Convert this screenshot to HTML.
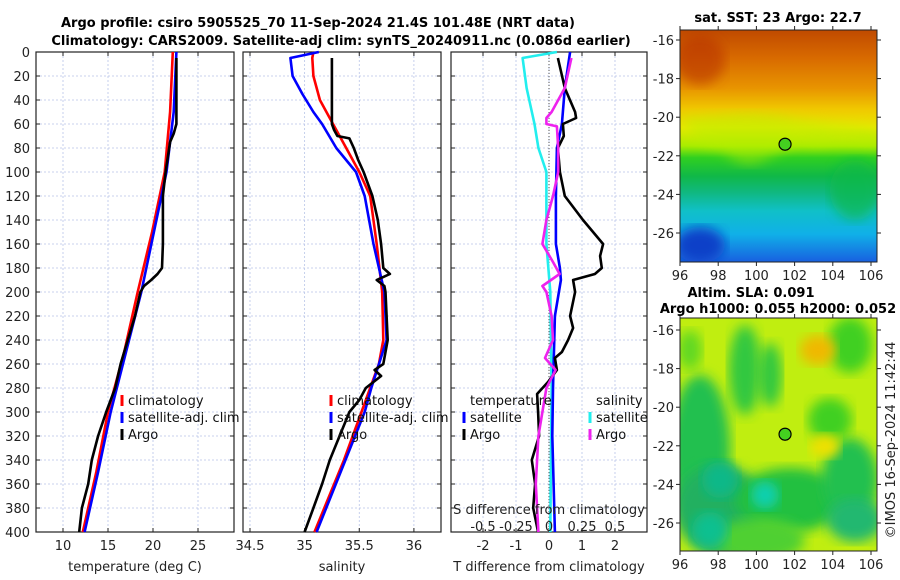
<!DOCTYPE html>
<html><head><meta charset="utf-8"><style>
body{margin:0;background:#fff;}
svg{display:block;font-family:"DejaVu Sans","Liberation Sans",sans-serif;}
</style></head><body>
<svg id="c" width="900" height="580" viewBox="0 0 900 580">
<defs>
<linearGradient id="sst" x1="0" y1="0" x2="0" y2="1">
<stop offset="0" stop-color="#c04a00"/><stop offset="0.12" stop-color="#d86a00"/><stop offset="0.25" stop-color="#e89400"/>
<stop offset="0.34" stop-color="#f0c800"/><stop offset="0.42" stop-color="#e8e800"/><stop offset="0.5" stop-color="#a8ec00"/>
<stop offset="0.55" stop-color="#30d020"/><stop offset="0.63" stop-color="#10b848"/><stop offset="0.7" stop-color="#10b880"/>
<stop offset="0.78" stop-color="#10c0c8"/><stop offset="0.88" stop-color="#10b0e8"/><stop offset="1" stop-color="#1860e0"/>
</linearGradient>
<filter id="bl"><feGaussianBlur stdDeviation="6"/></filter>
<clipPath id="m1"><rect x="680" y="30" width="197" height="232"/></clipPath>
<clipPath id="m2"><rect x="680" y="318" width="197" height="233"/></clipPath>
</defs>
</svg>
<script>
// ---- data ----
const tClimDepth=[0,50,100,150,200,250,300,350,400];
const tClim=[22.2,21.9,21.3,19.9,18.3,16.8,15.0,13.7,12.2];
const tSat=[22.6,22.3,21.5,20.1,18.7,17.0,15.3,13.9,12.4];
const tArgoDepth=[5,60,68,75,100,120,160,180,185,190,195,200,220,240,260,280,300,320,340,360,380,400];
const tArgo=[22.6,22.6,22.3,21.9,21.4,21.1,21.1,21.0,20.5,19.8,19.0,18.6,18.0,17.2,16.4,15.8,14.8,13.9,13.2,12.8,12.1,11.8];
const sClimDepth=[0,5,20,40,60,80,100,120,160,200,240,260,280,300,340,400];
const sClim=[35.08,35.07,35.08,35.14,35.26,35.38,35.50,35.60,35.66,35.71,35.72,35.68,35.60,35.52,35.36,35.09];
const sSatDepth=[0,5,20,35,50,60,80,100,120,160,200,240,280,300,400];
const sSat=[35.13,34.87,34.89,34.98,35.08,35.16,35.29,35.47,35.55,35.63,35.73,35.75,35.61,35.55,35.11];
const sArgoDepth=[5,60,65,70,72,80,90,100,120,140,160,180,185,190,195,200,240,260,265,270,280,290,300,320,340,360,380,400];
const sArgo=[35.25,35.25,35.27,35.30,35.41,35.45,35.49,35.54,35.62,35.67,35.70,35.72,35.78,35.66,35.73,35.74,35.76,35.72,35.64,35.70,35.56,35.50,35.41,35.32,35.23,35.16,35.08,35.00];
const dTSatDepth=[0,30,60,80,120,160,180,190,220,280,320,400];
const dTSat=[0.64,0.48,0.39,0.24,0.21,0.21,0.33,0.36,0.18,0.12,0.10,0.18];
const dSSatDepth=[0,5,30,60,80,100,120,160,200,280,400];
const dSSat=[0.06,-0.20,-0.17,-0.11,-0.08,-0.02,-0.02,-0.02,0.01,0.02,0.01];
const dTArgoDepth=[5,30,50,55,60,70,80,100,120,140,160,170,180,185,190,200,220,230,240,250,255,265,275,285,300,320,340,360,380,400];
const dTArgo=[0.27,0.48,0.79,0.82,0.42,0.45,0.27,0.33,0.48,1.03,1.64,1.55,1.6,1.39,0.73,0.79,0.64,0.73,0.58,0.39,0.18,0.24,-0.03,-0.36,-0.33,-0.30,-0.52,-0.42,-0.48,-0.33];
const dSArgoDepth=[5,30,50,55,60,62,80,100,120,140,160,175,185,195,200,220,240,255,265,280,300,320,340,360,400];
const dSArgo=[0.17,0.12,0.02,-0.02,-0.02,0.06,0.07,0.07,0.03,-0.02,-0.05,0.03,0.08,-0.05,-0.02,0.02,0.03,-0.03,0.05,-0.02,-0.05,-0.08,-0.09,-0.10,-0.08];
const depthTicks=[0,20,40,60,80,100,120,140,160,180,200,220,240,260,280,300,320,340,360,380,400];
const tTicks=[10,15,20,25];
const sTicks=[34.5,35,35.5,36];
const sTickLabels=["34.5","35","35.5","36"];
const dTTicks=[-2,-1,0,1,2];
const dSTicks=[-0.5,-0.25,0,0.25,0.5];
const dSTickLabels=["-0.5","-0.25","0","0.25","0.5"];
const lonTicks=[96,98,100,102,104,106];
const latTicks=[-16,-18,-20,-22,-24,-26];
const argoLon=101.5, argoLat=-21.4;

// ---- scales ----
const Y0=52,Y1=532;
const yD=d=>Y0+(d/400)*(Y1-Y0);
const P1={x0:36,x1:234,v0:7,v1:29};
const P2={x0:243,x1:441,v0:34.436,v1:36.248};
const P3={x0:451,x1:647,v0:-2.97,v1:2.97};
const sx=(p,v)=>p.x0+(v-p.v0)/(p.v1-p.v0)*(p.x1-p.x0);
const sxS=v=>sx(P3,v*4);
const lonX=l=>680+(l-96)*19.1;
const lat1=l=>40+(-16-l)*19.3;
const lat2=l=>330+(-16-l)*19.3;

const svg=document.getElementById('c');
const NS='http://www.w3.org/2000/svg';
function mk(tag,at,parent){const e=document.createElementNS(NS,tag);for(const k in at)e.setAttribute(k,at[k]);(parent||svg).appendChild(e);return e;}
function txt(x,y,s,at,parent){const e=mk('text',Object.assign({x:x,y:y,'font-size':13,fill:'#222'},at||{}),parent);e.textContent=s;return e;}

// titles
let t=txt(318,27,'Argo profile: csiro 5905525_70 11-Sep-2024 21.4S 101.48E (NRT data)',{'text-anchor':'middle','font-weight':'bold','fill':'#000'});


t=txt(341,45,'Climatology: CARS2009. Satellite-adj clim: synTS_20240911.nc (0.086d earlier)',{'text-anchor':'middle','font-weight':'bold','fill':'#000'});



function panel(p,name,xt,xl,xlabel){
  const g=mk('g',{});
  
  
  depthTicks.forEach(d=>{
    const l=mk('line',{x1:p.x0,x2:p.x1,y1:yD(d),y2:yD(d),stroke:'#b8c4e8','stroke-width':0.8,'stroke-dasharray':'2,2'},g);
    
    
    mk('line',{x1:p.x0,x2:p.x0+4,y1:yD(d),y2:yD(d),stroke:'#222'},g);
    mk('line',{x1:p.x1-4,x2:p.x1,y1:yD(d),y2:yD(d),stroke:'#222'},g);
  });
  xt.forEach((v,i)=>{
    const x=p.fx(v);
    const l=mk('line',{x1:x,x2:x,y1:Y0,y2:Y1,stroke:'#b8c4e8','stroke-width':0.8,'stroke-dasharray':'2,2'},g);
    
    
    mk('line',{x1:x,x2:x,y1:Y1,y2:Y1-4,stroke:'#222'},g);
    mk('line',{x1:x,x2:x,y1:Y0,y2:Y0+4,stroke:'#222'},g);
    if(xl){const tt=txt(x,Y1+18,xl[i],{'text-anchor':'middle'},g);
      
      }
  });
  const r=mk('rect',{x:p.x0,y:Y0,width:p.x1-p.x0,height:Y1-Y0,fill:'none',stroke:'#222','stroke-width':1.2},g);
  
  
  const xt2=txt((p.x0+p.x1)/2,571,xlabel,{'text-anchor':'middle'},g);
  
  
  return g;
}
P1.fx=v=>sx(P1,v);P2.fx=v=>sx(P2,v);P3.fx=v=>sx(P3,v);
panel(P1,'temperature-panel',tTicks,tTicks.map(String),'temperature (deg C)');
panel(P2,'salinity-panel',sTicks,sTickLabels,'salinity');
panel(P3,'difference-panel',dTTicks,dTTicks.map(String),'T difference from climatology');
depthTicks.forEach(d=>{
  const e=txt(30,yD(d)+5,String(d),{'text-anchor':'end'});
  
  
});
const zl=mk('line',{x1:sx(P3,0),x2:sx(P3,0),y1:Y0,y2:Y1,stroke:'#555','stroke-width':1,'stroke-dasharray':'1,2'});



function line(depths,vals,fx,color,name){
  const pts=depths.map((d,i)=>fx(vals[i]).toFixed(1)+','+yD(d).toFixed(1)).join(' ');
  const e=mk('polyline',{points:pts,fill:'none',stroke:color,'stroke-width':2.6,'stroke-linejoin':'round'});
  
  
}
line(tClimDepth,tClim,P1.fx,'#ff0000','temp-climatology-line');
line(tClimDepth,tSat,P1.fx,'#0000ff','temp-satellite-line');
line(tArgoDepth,tArgo,P1.fx,'#000','temp-argo-line');
line(sClimDepth,sClim,P2.fx,'#ff0000','sal-climatology-line');
line(sSatDepth,sSat,P2.fx,'#0000ff','sal-satellite-line');
line(sArgoDepth,sArgo,P2.fx,'#000','sal-argo-line');
line(dSSatDepth,dSSat,sxS,'#22eeee','sdiff-satellite-line');
line(dTSatDepth,dTSat,P3.fx,'#0000ff','tdiff-satellite-line');
line(dTArgoDepth,dTArgo,P3.fx,'#000','tdiff-argo-line');
line(dSArgoDepth,dSArgo,sxS,'#ee22ee','sdiff-argo-line');

t=txt(549,514,'S difference from climatology',{'text-anchor':'middle'});


dSTicks.forEach((v,i)=>{const e=txt(sxS(v),531,dSTickLabels[i],{'text-anchor':'middle'});
  
  });

function legend(x,y,items,name){
  const g=mk('g',{});
  
  
  items.forEach((it,i)=>{
    if(it[1]) mk('rect',{x:x-1.5,y:y+i*17-10,width:3,height:11,fill:it[1]},g);
    txt(x+6,y+i*17,it[0],{'fill':'#111'},g);
  });
}
legend(122,405,[['climatology','#ff0000'],['satellite-adj. clim','#0000ff'],['Argo','#000']],'temperature-legend');
legend(331,405,[['climatology','#ff0000'],['satellite-adj. clim','#0000ff'],['Argo','#000']],'salinity-legend');
legend(464,405,[['temperature',null],['satellite','#0000ff'],['Argo','#000']],'tdiff-legend');
legend(590,405,[['salinity',null],['satellite','#22eeee'],['Argo','#ee22ee']],'sdiff-legend');

function mapAxes(top,bot,latf,name){
  const g=mk('g',{});
  
  
  mk('rect',{x:680,y:top,width:197,height:bot-top,fill:'none',stroke:'#222','stroke-width':1},g);
  lonTicks.forEach(l=>{const x=lonX(l);
    mk('line',{x1:x,x2:x,y1:bot,y2:bot+4,stroke:'#222'},g);mk('line',{x1:x,x2:x,y1:top,y2:top-4,stroke:'#222'},g);
    const e=txt(x,bot+18,String(l),{'text-anchor':'middle'},g);
    
    });
  latTicks.forEach(l=>{const y=latf(l);
    mk('line',{x1:676,x2:680,y1:y,y2:y,stroke:'#222'},g);mk('line',{x1:877,x2:881,y1:y,y2:y,stroke:'#222'},g);
    const e=txt(674,y+5,String(l),{'text-anchor':'end'},g);
    
    });
}
const g1=mk('g',{'clip-path':'url(#m1)'});


mk('rect',{x:680,y:30,width:197,height:232,fill:'url(#sst)'},g1);
mk('path',{d:'M680,118 Q700,150 720,148 Q740,170 760,162 Q785,150 800,138 Q820,150 830,140 Q850,135 877,148 L877,130 Q840,125 800,120 Q760,110 720,115 Z',fill:'#b8ee00',opacity:0.5,filter:'url(#bl)'},g1);
mk('ellipse',{cx:700,cy:245,rx:25,ry:18,fill:'#1040c8',filter:'url(#bl)'},g1);
mk('ellipse',{cx:700,cy:60,rx:25,ry:25,fill:'#b83000',opacity:0.6,filter:'url(#bl)'},g1);
mk('ellipse',{cx:855,cy:190,rx:25,ry:30,fill:'#10b848',opacity:0.7,filter:'url(#bl)'},g1);
mapAxes(30,262,lat1,'sst-map-axes');
let c1=mk('circle',{cx:lonX(argoLon),cy:lat1(argoLat),r:6,fill:'#44d020',stroke:'#000','stroke-width':1.2});


t=txt(778,22,'sat. SST: 23 Argo: 22.7',{'text-anchor':'middle','font-weight':'bold','fill':'#000'});


const g2=mk('g',{'clip-path':'url(#m2)'});


mk('rect',{x:680,y:318,width:197,height:233,fill:'#c0ee10'},g2);
[[700,450,30,75,'#20c050'],[720,510,45,45,'#20b060'],[745,370,16,45,'#30c840'],[770,375,12,32,'#30c840'],
 [790,500,55,32,'#20c040'],[760,540,45,22,'#50d030'],[850,480,28,42,'#20c050'],[855,520,28,22,'#20b870'],
 [720,480,18,18,'#10b888'],[765,495,14,14,'#10d0b0'],[710,530,18,18,'#10c090'],[850,345,22,28,'#40d020'],[830,420,22,22,'#40d020'],[690,350,12,20,'#60d820']
].forEach(a=>mk('ellipse',{cx:a[0],cy:a[1],rx:a[2],ry:a[3],fill:a[4],filter:'url(#bl)'},g2));
mk('ellipse',{cx:818,cy:350,rx:18,ry:15,fill:'#f0b800',filter:'url(#bl)'},g2);
mk('ellipse',{cx:825,cy:446,rx:15,ry:12,fill:'#f0e000',filter:'url(#bl)'},g2);
mapAxes(318,551,lat2,'sla-map-axes');
c1=mk('circle',{cx:lonX(argoLon),cy:lat2(argoLat),r:6,fill:'#44d020',stroke:'#000','stroke-width':1.2});


t=txt(751,297,'Altim. SLA: 0.091',{'text-anchor':'middle','font-weight':'bold','fill':'#000'});


t=txt(778,313,'Argo h1000: 0.055 h2000: 0.052',{'text-anchor':'middle','font-weight':'bold','fill':'#000'});


t=txt(0,0,'©IMOS 16-Sep-2024 11:42:44',{'text-anchor':'middle','transform':'translate(895,440) rotate(-90)'});


</script>
</body></html>
